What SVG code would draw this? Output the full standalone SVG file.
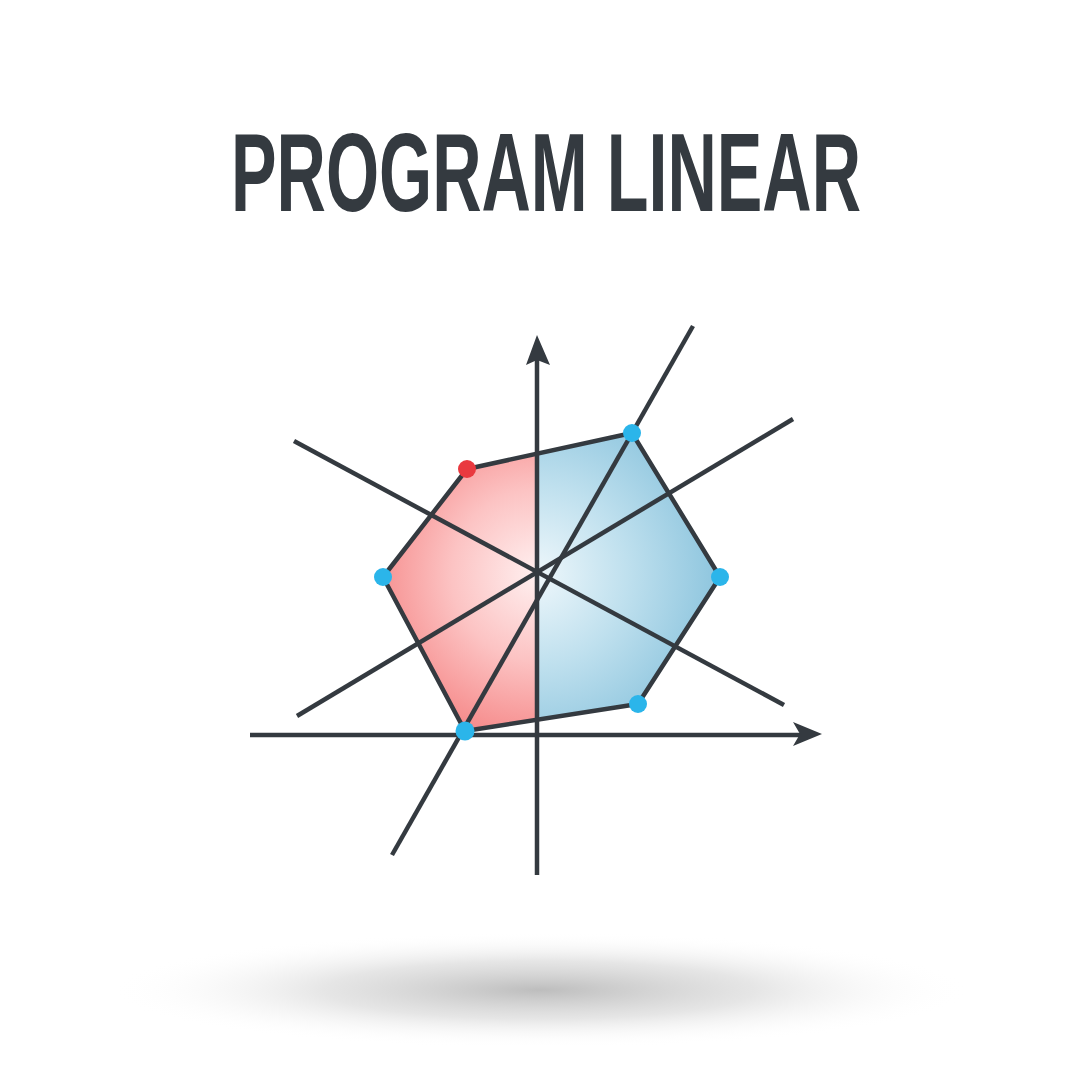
<svg xmlns="http://www.w3.org/2000/svg" width="1080" height="1080" viewBox="0 0 1080 1080">
  <defs>
    <style>
      .ln { stroke: #343a40; stroke-width: 4.5; fill: none; stroke-linecap: butt; }
      .edge { stroke: #343a40; stroke-width: 4.5; fill: none; stroke-linejoin: round; }
      .vb { fill: #2bb5ea; }
      .vr { fill: #e9393f; }
      .title { font-family: "Liberation Sans", "DejaVu Sans", sans-serif; font-weight: bold; fill: #343a40; }
    </style>
    <radialGradient id="redFill" cx="537" cy="575" r="190" gradientUnits="userSpaceOnUse">
      <stop offset="0" stop-color="#fff0f0"/>
      <stop offset="0.45" stop-color="#fcc3c3"/>
      <stop offset="1" stop-color="#f47b7b"/>
    </radialGradient>
    <radialGradient id="blueFill" cx="537" cy="575" r="200" gradientUnits="userSpaceOnUse">
      <stop offset="0" stop-color="#eef7fb"/>
      <stop offset="0.45" stop-color="#bfe0ee"/>
      <stop offset="1" stop-color="#84c0db"/>
    </radialGradient>
    <radialGradient id="shadow" cx="0.5" cy="0.5" r="0.5">
      <stop offset="0" stop-color="#bdbdbd" stop-opacity="1"/>
      <stop offset="0.5" stop-color="#d8d8d8" stop-opacity="0.65"/>
      <stop offset="1" stop-color="#ffffff" stop-opacity="0"/>
    </radialGradient>
    <clipPath id="leftHalf"><rect x="0" y="0" width="537" height="1080"/></clipPath>
    <clipPath id="rightHalf"><rect x="537" y="0" width="543" height="1080"/></clipPath>
  </defs>

  <rect width="1080" height="1080" fill="#ffffff"/>

  <!-- ground shadow -->
  <ellipse cx="540" cy="990" rx="430" ry="58" fill="url(#shadow)"/>

  <!-- title, condensed horizontally -->
  <g id="title" transform="translate(546,211) scale(0.61,1)">
    <text class="title" x="0" y="0" font-size="112" text-anchor="middle">PROGRAM LINEAR</text>
  </g>

  <!-- feasible region -->
  <g id="region">
    <polygon points="383,577 467,469 632,433 720,577 638,704 465,731" fill="url(#redFill)" clip-path="url(#leftHalf)"/>
    <polygon points="383,577 467,469 632,433 720,577 638,704 465,731" fill="url(#blueFill)" clip-path="url(#rightHalf)"/>
    <polygon class="edge" points="383,577 467,469 632,433 720,577 638,704 465,731"/>
  </g>

  <!-- axes and constraint lines -->
  <g id="connectors">
    <line class="ln" x1="294" y1="441" x2="784" y2="705"/>
    <line class="ln" x1="297" y1="716" x2="793" y2="419"/>
    <line class="ln" x1="392" y1="855" x2="693" y2="326"/>
    <line class="ln" x1="537" y1="875" x2="537" y2="358"/>
    <polygon fill="#343a40" points="537,335 550,365 537,360 526,365"/>
    <line class="ln" x1="250" y1="735" x2="802" y2="735"/>
    <polygon fill="#343a40" points="822,734 793,746 800,734 793,722"/>
  </g>

  <!-- vertices -->
  <g id="v-left"><circle class="vb" cx="383" cy="577" r="9"/></g>
  <g id="v-topleft"><circle class="vr" cx="467" cy="469" r="9"/></g>
  <g id="v-top"><circle class="vb" cx="632" cy="433" r="9"/></g>
  <g id="v-right"><circle class="vb" cx="720" cy="577" r="9"/></g>
  <g id="v-bottomright"><circle class="vb" cx="638" cy="704" r="9"/></g>
  <g id="v-bottom"><circle class="vb" cx="465" cy="731" r="9.5"/></g>
</svg>
